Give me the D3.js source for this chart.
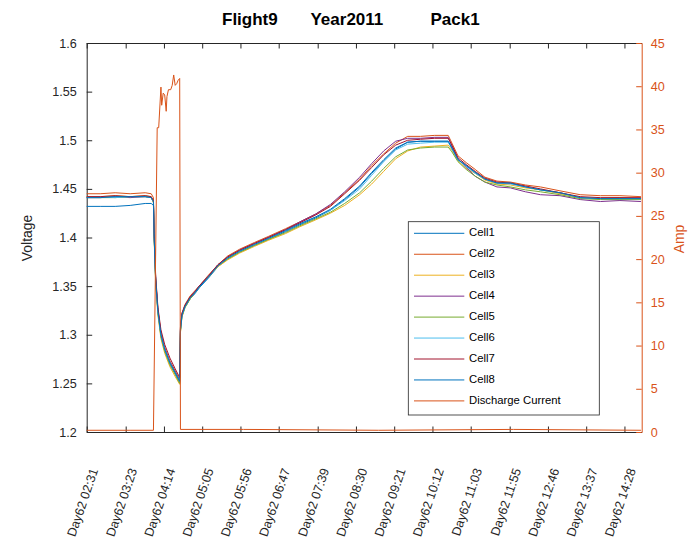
<!DOCTYPE html>
<html>
<head>
<meta charset="utf-8">
<script src="https://cdn.jsdelivr.net/npm/d3@7"></script>
<style>
  body { margin: 0; background: #fff; }
  svg { display: block; font-family: "Liberation Sans", Arial, sans-serif; }
</style>
</head>
<body>
<div id="chart"></div>
<script>
"use strict"

/* chart data */
let titleText = "Flight9       Year2011          Pack1";
let xTickLabels = ["Day62 02:31", "Day62 03:23", "Day62 04:14", "Day62 05:05", "Day62 05:56",
    "Day62 06:47", "Day62 07:39", "Day62 08:30", "Day62 09:21", "Day62 10:12",
    "Day62 11:03", "Day62 11:55", "Day62 12:46", "Day62 13:37", "Day62 14:28"];
let voltTicks = [1.2, 1.25, 1.3, 1.35, 1.4, 1.45, 1.5, 1.55, 1.6];
let ampTicks = [0, 5, 10, 15, 20, 25, 30, 35, 40, 45];
let cellNames = ["Cell1", "Cell2", "Cell3", "Cell4", "Cell5", "Cell6", "Cell7", "Cell8"];

let cellTimes = ["02:31", "02:49", "03:09", "03:29", "03:49", "03:57", "04:00", "04:01", "04:03", "04:06",
    "04:10", "04:15", "04:22", "04:29", "04:35", "04:36", "04:38", "04:42", "04:49", "04:55",
    "05:02", "05:13", "05:26", "05:39", "05:55", "06:15", "06:33", "06:56", "07:15", "07:36",
    "07:56", "08:15", "08:35", "08:51", "09:07", "09:23", "09:39", "09:56", "10:15", "10:33",
    "10:38", "10:46", "10:57", "11:09", "11:22", "11:38", "11:56", "12:16", "12:36", "13:02",
    "13:29", "13:56", "14:22", "14:50"];

let cell1 = [1.432, 1.432, 1.432, 1.433, 1.435, 1.435, 1.433, 1.399, 1.355, 1.323,
    1.299, 1.284, 1.270, 1.260, 1.251, 1.304, 1.319, 1.328, 1.337, 1.342,
    1.349, 1.358, 1.370, 1.378, 1.385, 1.392, 1.398, 1.406, 1.413, 1.420,
    1.428, 1.439, 1.452, 1.466, 1.479, 1.491, 1.498, 1.499, 1.499, 1.499,
    1.492, 1.480, 1.474, 1.467, 1.460, 1.456, 1.456, 1.452, 1.449, 1.446,
    1.441, 1.440, 1.440, 1.440];
let cell2 = [1.445, 1.445, 1.446, 1.445, 1.446, 1.445, 1.441, 1.403, 1.358, 1.326,
    1.302, 1.287, 1.273, 1.263, 1.254, 1.307, 1.322, 1.331, 1.340, 1.345,
    1.351, 1.361, 1.372, 1.381, 1.388, 1.395, 1.401, 1.409, 1.416, 1.424,
    1.433, 1.446, 1.460, 1.474, 1.486, 1.497, 1.504, 1.504, 1.505, 1.505,
    1.497, 1.484, 1.477, 1.470, 1.462, 1.458, 1.457, 1.454, 1.452, 1.448,
    1.444, 1.443, 1.443, 1.442];
let cell3 = [1.442, 1.442, 1.443, 1.442, 1.443, 1.442, 1.436, 1.396, 1.352, 1.320,
    1.296, 1.281, 1.267, 1.257, 1.249, 1.302, 1.318, 1.328, 1.337, 1.343,
    1.350, 1.359, 1.370, 1.377, 1.384, 1.391, 1.397, 1.404, 1.411, 1.418,
    1.425, 1.433, 1.444, 1.455, 1.468, 1.481, 1.489, 1.493, 1.494, 1.495,
    1.490, 1.479, 1.471, 1.466, 1.459, 1.455, 1.454, 1.451, 1.449, 1.445,
    1.441, 1.440, 1.441, 1.440];
let cell4 = [1.441, 1.441, 1.442, 1.441, 1.442, 1.441, 1.437, 1.401, 1.357, 1.325,
    1.301, 1.286, 1.272, 1.262, 1.253, 1.306, 1.321, 1.330, 1.339, 1.344,
    1.351, 1.360, 1.372, 1.380, 1.387, 1.394, 1.400, 1.408, 1.416, 1.424,
    1.434, 1.447, 1.462, 1.476, 1.489, 1.499, 1.502, 1.502, 1.503, 1.503,
    1.494, 1.481, 1.472, 1.463, 1.457, 1.452, 1.451, 1.447, 1.444, 1.443,
    1.439, 1.437, 1.438, 1.437];
let cell5 = [1.441, 1.441, 1.441, 1.442, 1.442, 1.441, 1.436, 1.398, 1.354, 1.322,
    1.298, 1.283, 1.269, 1.259, 1.250, 1.303, 1.319, 1.328, 1.337, 1.343,
    1.350, 1.359, 1.371, 1.378, 1.385, 1.392, 1.398, 1.405, 1.412, 1.419,
    1.426, 1.435, 1.446, 1.458, 1.471, 1.483, 1.490, 1.492, 1.493, 1.493,
    1.488, 1.478, 1.470, 1.463, 1.457, 1.454, 1.452, 1.449, 1.447, 1.444,
    1.440, 1.439, 1.439, 1.439];
let cell6 = [1.441, 1.442, 1.441, 1.442, 1.442, 1.441, 1.437, 1.400, 1.356, 1.324,
    1.300, 1.285, 1.271, 1.261, 1.252, 1.305, 1.320, 1.329, 1.338, 1.343,
    1.350, 1.359, 1.371, 1.379, 1.386, 1.393, 1.399, 1.407, 1.414, 1.421,
    1.428, 1.438, 1.450, 1.464, 1.478, 1.490, 1.496, 1.497, 1.498, 1.498,
    1.491, 1.480, 1.473, 1.466, 1.460, 1.456, 1.455, 1.452, 1.449, 1.446,
    1.441, 1.440, 1.440, 1.440];
let cell7 = [1.442, 1.442, 1.443, 1.442, 1.443, 1.442, 1.438, 1.404, 1.360, 1.328,
    1.305, 1.290, 1.276, 1.265, 1.256, 1.308, 1.322, 1.330, 1.339, 1.344,
    1.351, 1.360, 1.372, 1.380, 1.387, 1.394, 1.400, 1.408, 1.415, 1.423,
    1.432, 1.445, 1.459, 1.472, 1.485, 1.495, 1.500, 1.501, 1.502, 1.502,
    1.495, 1.482, 1.475, 1.468, 1.461, 1.457, 1.456, 1.453, 1.450, 1.446,
    1.442, 1.441, 1.441, 1.441];
let cell8 = [1.441, 1.441, 1.442, 1.442, 1.442, 1.441, 1.437, 1.400, 1.356, 1.324,
    1.300, 1.285, 1.271, 1.261, 1.252, 1.305, 1.320, 1.329, 1.338, 1.343,
    1.350, 1.359, 1.371, 1.379, 1.386, 1.393, 1.399, 1.407, 1.414, 1.421,
    1.429, 1.440, 1.453, 1.467, 1.480, 1.492, 1.498, 1.499, 1.499, 1.499,
    1.492, 1.480, 1.474, 1.467, 1.460, 1.456, 1.456, 1.452, 1.449, 1.446,
    1.441, 1.440, 1.440, 1.440];

let currentTimes = ["02:31", "03:30", "04:00", "04:05", "04:07", "04:10", "04:11", "04:13", "04:15", "04:17",
    "04:18", "04:20", "04:23", "04:25", "04:27", "04:29", "04:31", "04:33", "04:35", "04:36",
    "06:00", "09:00", "12:00", "14:50"];
let currentAmps = [0.2, 0.2, 0.2, 35.2, 35.2, 39.9, 37.8, 39.2, 39.0, 37.1,
    38.8, 39.6, 39.6, 40.1, 41.3, 40.1, 40.3, 40.7, 40.9, 0.3,
    0.3, 0.2, 0.3, 0.2];

/* colours, matlab default order */
let cellColors = ["#0072BD", "#D95319", "#EDB120", "#7E2F8E", "#77AC30", "#4DBEEE", "#A2142F", "#0072BD"];
let currentColor = "#D95319";
let axisColor = "#262626";

let cellValues = [cell1, cell2, cell3, cell4, cell5, cell6, cell7, cell8];

/* set up the drawing canvas */
let width = 693, height = 541;
let plotLeft = 86.7, plotRight = 641.7, plotTop = 43, plotBottom = 432;

let drawing = d3.select("#chart")
    .append("svg")
    .attr("width", width)
    .attr("height", height);

drawing.append("rect")
    .attr("width", width)
    .attr("height", height)
    .attr("fill", "white");

let parseTime = d3.timeParse("%H:%M");

let x = d3.scaleTime()
    .domain([parseTime("02:31"), parseTime("14:51")])
    .range([plotLeft, plotRight]);
let yVolt = d3.scaleLinear().domain([1.2, 1.6]).range([plotBottom, plotTop]);
let yAmp = d3.scaleLinear().domain([0, 45]).range([plotBottom, plotTop]);

/* axes */
let tickDates = xTickLabels.map(s => parseTime(s.split(" ")[1]));

let xAxis = drawing.append("g")
    .attr("transform", "translate(0," + plotBottom + ")")
    .call(d3.axisBottom(x).tickValues(tickDates).tickSize(-5.5).tickSizeOuter(0).tickFormat(""));

xAxis.selectAll(".tick")
    .append("text")
    .attr("fill", axisColor)
    .attr("font-size", 12.6)
    .attr("text-anchor", "end")
    .attr("dominant-baseline", "middle")
    .attr("transform", "translate(8,37) rotate(-71)")
    .text((d, i) => xTickLabels[i]);

let xTop = drawing.append("g")
    .attr("transform", "translate(0," + plotTop + ")")
    .call(d3.axisTop(x).tickValues(tickDates).tickSize(-5.5).tickSizeOuter(0).tickFormat(""));

let yLeft = drawing.append("g")
    .attr("transform", "translate(" + plotLeft + ",0)")
    .call(d3.axisLeft(yVolt).tickValues(voltTicks).tickSize(-5.5).tickSizeOuter(0)
        .tickPadding(10).tickFormat(d => String(d)));

let yRight = drawing.append("g")
    .attr("transform", "translate(" + plotRight + ",0)")
    .call(d3.axisRight(yAmp).tickValues(ampTicks).tickSize(-5.5).tickSizeOuter(0)
        .tickPadding(9).tickFormat(d => String(d)));

[xAxis, xTop, yLeft].forEach(g => {
    g.attr("font-family", null);
    g.selectAll("path, line").attr("stroke", axisColor);
    g.selectAll("text").attr("fill", axisColor);
});
yLeft.selectAll("text").attr("font-size", 12.6);
yRight.attr("font-family", null);
yRight.selectAll("path, line").attr("stroke", currentColor);
yRight.selectAll("text").attr("fill", currentColor).attr("font-size", 12.6);

/* cell voltage lines */
let voltLine = d3.line()
    .x(d => x(d[0]))
    .y(d => yVolt(d[1]));

let timeDates = cellTimes.map(parseTime);

cellValues.forEach((vals, i) => {
    drawing.append("path")
        .datum(timeDates.map((t, j) => [t, vals[j]]))
        .attr("d", voltLine)
        .attr("fill", "none")
        .attr("stroke", cellColors[i])
        .attr("stroke-width", 1);
});

/* discharge current */
let ampLine = d3.line()
    .x(d => x(d[0]))
    .y(d => yAmp(d[1]));

drawing.append("path")
    .datum(currentTimes.map((t, j) => [parseTime(t), currentAmps[j]]))
    .attr("d", ampLine)
    .attr("fill", "none")
    .attr("stroke", currentColor)
    .attr("stroke-width", 1);

/* titles */
drawing.append("text")
    .attr("x", 222)
    .attr("y", 25)
    .attr("font-size", 17)
    .attr("font-weight", "bold")
    .attr("fill", "black")
    .style("white-space", "pre")
    .text(titleText);

drawing.append("text")
    .attr("transform", "translate(32,238) rotate(-90)")
    .attr("text-anchor", "middle")
    .attr("font-size", 13.9)
    .attr("fill", axisColor)
    .text("Voltage");

drawing.append("text")
    .attr("transform", "translate(684,239) rotate(-90)")
    .attr("text-anchor", "middle")
    .attr("font-size", 13.9)
    .attr("fill", currentColor)
    .text("Amp");

/* legend */
let legendNames = cellNames.concat(["Discharge Current"]);
let legendColors = cellColors.concat([currentColor]);

let legend = drawing.append("g");
legend.append("rect")
    .attr("x", 408.3)
    .attr("y", 221.7)
    .attr("width", 191)
    .attr("height", 193.3)
    .attr("fill", "white")
    .attr("stroke", axisColor)
    .attr("stroke-width", 0.8);

legendNames.forEach((name, i) => {
    let ly = 233.3 + i * 20.95;
    legend.append("line")
        .attr("x1", 414)
        .attr("x2", 464.3)
        .attr("y1", ly)
        .attr("y2", ly)
        .attr("stroke", legendColors[i])
        .attr("stroke-width", 1);
    legend.append("text")
        .attr("x", 469)
        .attr("y", ly)
        .attr("dominant-baseline", "middle")
        .attr("font-size", 11.3)
        .attr("fill", "black")
        .text(name);
});
</script>
</body>
</html>
